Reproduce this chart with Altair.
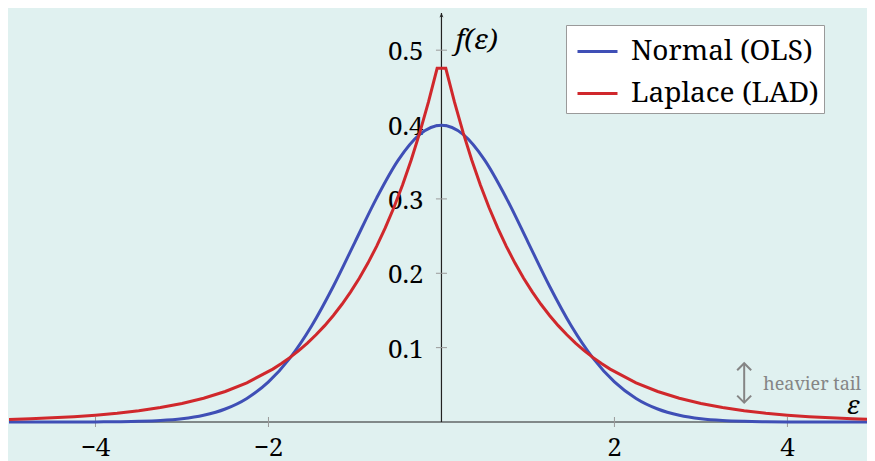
import altair as alt
import pandas as pd

# ---------------- data ----------------
x_normal = [-5.0, -4.75, -4.5, -4.25, -4.0, -3.75, -3.5, -3.25, -3.0, -2.75, -2.5, -2.25,
            -2.0, -1.75, -1.5, -1.25, -1.0, -0.75, -0.5, -0.25, 0.0,
            0.25, 0.5, 0.75, 1.0, 1.25, 1.5, 1.75, 2.0, 2.25, 2.5, 2.75, 3.0, 3.25,
            3.5, 3.75, 4.0, 4.25, 4.5, 4.75, 5.0]
y_normal = [0.0000, 0.0000, 0.0000, 0.0000, 0.0001, 0.0004, 0.0009, 0.0020, 0.0044, 0.0091,
            0.0175, 0.0317, 0.0540, 0.0863, 0.1295, 0.1826, 0.2420, 0.3011, 0.3521, 0.3867,
            0.3989,
            0.3867, 0.3521, 0.3011, 0.2420, 0.1826, 0.1295, 0.0863, 0.0540, 0.0317, 0.0175,
            0.0091, 0.0044, 0.0020, 0.0009, 0.0004, 0.0001, 0.0000, 0.0000, 0.0000, 0.0000]

x_laplace = [-5.0, -4.75, -4.5, -4.25, -4.0, -3.75, -3.5, -3.25, -3.0, -2.75, -2.5, -2.25,
             -1.95, -1.85, -1.75, -1.65, -1.55, -1.45, -1.35, -1.25, -1.15, -1.05,
             -0.95, -0.85, -0.75, -0.65, -0.55, -0.45, -0.35, -0.25, -0.15, -0.05,
             0.05, 0.15, 0.25, 0.35, 0.45, 0.55, 0.65, 0.75, 0.85, 0.95,
             1.05, 1.15, 1.25, 1.35, 1.45, 1.55, 1.65, 1.75, 1.85, 1.95,
             2.25, 2.5, 2.75, 3.0, 3.25, 3.5, 3.75, 4.0, 4.25, 4.5, 4.75, 5.0]
y_laplace = [0.0034, 0.0043, 0.0056, 0.0071, 0.0092, 0.0118, 0.0151, 0.0194, 0.0249, 0.0320,
             0.0410, 0.0527,
             0.0711, 0.0786, 0.0869, 0.0960, 0.1061, 0.1173, 0.1296, 0.1433, 0.1583, 0.1750,
             0.1934, 0.2137, 0.2362, 0.2610, 0.2885, 0.3188, 0.3523, 0.3894, 0.4304, 0.4756,
             0.4756, 0.4304, 0.3894, 0.3523, 0.3188, 0.2885, 0.2610, 0.2362, 0.2137, 0.1934,
             0.1750, 0.1583, 0.1433, 0.1296, 0.1173, 0.1061, 0.0960, 0.0869, 0.0786, 0.0711,
             0.0527, 0.0410, 0.0320, 0.0249, 0.0194, 0.0151, 0.0118, 0.0092, 0.0071, 0.0056,
             0.0043, 0.0034]

series_names = ["Normal (OLS)", "Laplace (LAD)"]
series_colors = ["#3f4fb6", "#d0282c"]

# visible window (the right end is cut by the page edge)
x_domain = [-5, 4.92]
y_domain = [0, 0.55]

x_ticks = [-4, -2, 2, 4]
x_tick_labels = ["\u22124", "\u22122", "2", "4"]
y_ticks = [0.1, 0.2, 0.3, 0.4, 0.5]
y_tick_labels = ["0.1", "0.2", "0.3", "0.4", "0.5"]

# annotation: "heavier tail" double arrow
tail_arrow_x = [3.5]
tail_arrow_y = [0.026]
tail_arrow_y2 = [0.079]
tail_text_x = [3.72]
tail_text_y = [0.043]
tail_text = ["heavier tail"]

BG = "#e0f1f0"
FONT = "Noto Serif, DejaVu Serif"
AXIS_COLOR = "#222222"
TICK_COLOR = "#9a9a9a"
GRAY = "#858585"

# ---------------- chart ----------------
xs = alt.Scale(domain=x_domain, nice=False, zero=False)
ys = alt.Scale(domain=y_domain, nice=False, zero=False)
cscale = alt.Scale(domain=series_names, range=series_colors)
X = lambda f: alt.X(f, type="quantitative", scale=xs, axis=None)
Y = lambda f: alt.Y(f, type="quantitative", scale=ys, axis=None)

df_n = pd.DataFrame({"x": x_normal, "y": y_normal, "series": series_names[0]})
df_l = pd.DataFrame({"x": x_laplace, "y": y_laplace, "series": series_names[1]})

legend = alt.Legend(
    title=None, orient="none", legendX=557, legendY=12,
    fillColor="white", strokeColor="#9a9a9a", padding=5, rowPadding=6,
    symbolOffset=5,
    labelFont=FONT, labelFontSize=28, labelColor="black", labelLimit=0,
    symbolType="stroke", symbolSize=1600, symbolStrokeWidth=3, labelOffset=12,
)
color_enc = alt.Color("series:N", scale=cscale, legend=legend)

normal = alt.Chart(df_n).mark_line(strokeWidth=3, interpolate="monotone").encode(
    x=X("x"), y=Y("y"), color=color_enc)
laplace = alt.Chart(df_l).mark_line(strokeWidth=3).encode(
    x=X("x"), y=Y("y"), color=color_enc)

# axes lines
df_xaxis = pd.DataFrame({"x": [x_domain[0]], "x2": [x_domain[1]], "y": [0]})
x_axis = alt.Chart(df_xaxis).mark_rule(color=AXIS_COLOR, strokeWidth=1.2).encode(
    x=X("x"), x2="x2", y=Y("y"))
df_yaxis = pd.DataFrame({"x": [0], "y": [y_domain[0]], "y2": [y_domain[1]]})
y_axis = alt.Chart(df_yaxis).mark_rule(color=AXIS_COLOR, strokeWidth=1.2).encode(
    x=X("x"), y=Y("y"), y2="y2")

arrow_up = alt.Chart(pd.DataFrame({"x": [0], "y": [y_domain[1]]})).mark_point(
    shape="M0,0 L0.8,1.8 L0,1.3 L-0.8,1.8 Z", filled=True, size=25,
    color=AXIS_COLOR, opacity=1).encode(x=X("x"), y=Y("y"))

# ticks
df_xt = pd.DataFrame({"x": x_ticks, "y": [0] * len(x_ticks), "label": x_tick_labels})
df_yt = pd.DataFrame({"x": [0] * len(y_ticks), "y": y_ticks, "label": y_tick_labels})
xtick_marks = alt.Chart(df_xt).mark_point(
    shape="M0,-1 L0,1", size=100, color=TICK_COLOR, strokeWidth=1, opacity=1
).encode(x=X("x"), y=Y("y"))
ytick_marks = alt.Chart(df_yt).mark_point(
    shape="M-1,0 L1,0", size=121, color=TICK_COLOR, strokeWidth=1, opacity=1
).encode(x=X("x"), y=Y("y"))
xtick_labels = alt.Chart(df_xt).mark_text(
    font=FONT, fontSize=26, color="black", align="center", baseline="alphabetic", dy=34
).encode(x=X("x"), y=Y("y"), text="label:N")
ytick_labels = alt.Chart(df_yt).mark_text(
    font=FONT, fontSize=26, color="black", align="right", baseline="middle", dx=-18, dy=2
).encode(x=X("x"), y=Y("y"), text="label:N")

# axis titles
fe_label = alt.Chart(pd.DataFrame({"x": [0], "y": [0.5], "t": ["f(\u03b5)"]})).mark_text(
    font=FONT, fontSize=28, fontStyle="italic", color="black", align="left",
    baseline="alphabetic", dx=14, dy=-1
).encode(x=X("x"), y=Y("y"), text="t:N")
eps_label = alt.Chart(pd.DataFrame({"x": [4.76], "y": [0], "t": ["\u03b5"]})).mark_text(
    font=FONT, fontSize=26, fontStyle="italic", color="black", align="center",
    baseline="alphabetic", dy=-8
).encode(x=X("x"), y=Y("y"), text="t:N")

# heavier tail annotation
df_tail = pd.DataFrame({"x": tail_arrow_x, "y": tail_arrow_y, "y2": tail_arrow_y2})
tail_rule = alt.Chart(df_tail).mark_rule(color=GRAY, strokeWidth=2).encode(
    x=X("x"), y=Y("y"), y2="y2")
tail_head_top = alt.Chart(df_tail).mark_point(
    shape="M-1,1 L0,0 L1,1", size=196, filled=False, color=GRAY, strokeWidth=2, opacity=1
).encode(x=X("x"), y=Y("y2"))
tail_head_bot = alt.Chart(df_tail).mark_point(
    shape="M-1,-1 L0,0 L1,-1", size=196, filled=False, color=GRAY, strokeWidth=2, opacity=1
).encode(x=X("x"), y=Y("y"))
tail_label = alt.Chart(pd.DataFrame({"x": tail_text_x, "y": tail_text_y, "t": tail_text})).mark_text(
    font=FONT, fontSize=18, color=GRAY, align="left", baseline="alphabetic"
).encode(x=X("x"), y=Y("y"), text="t:N")

chart = alt.layer(
    x_axis, y_axis, xtick_marks, ytick_marks, xtick_labels, ytick_labels,
    fe_label, eps_label, tail_rule, tail_head_top, tail_head_bot, tail_label,
    normal, laplace, arrow_up,
).properties(
    width=858, height=409,
    autosize=alt.AutoSizeParams(type="none"),
    padding={"left": 1, "top": 5, "right": 0, "bottom": 39},
    background=BG,
).configure_view(stroke=None)

chart.save("out.html", embed_options={"renderer": "svg", "actions": False})
